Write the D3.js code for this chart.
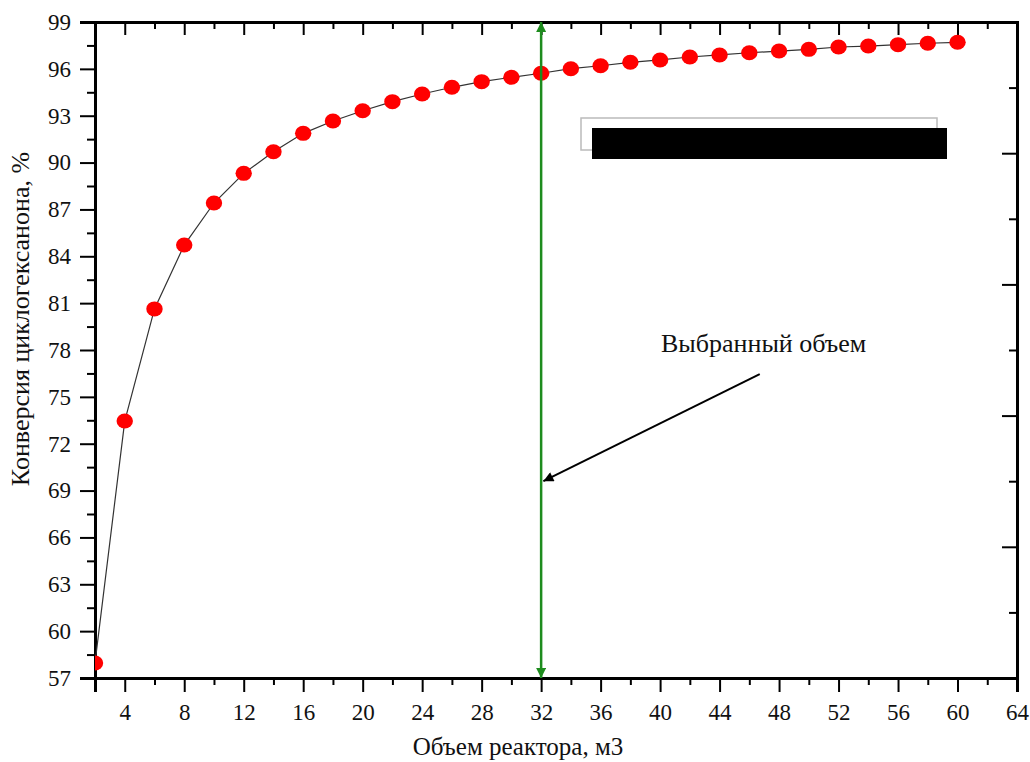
<!DOCTYPE html>
<html>
<head>
<meta charset="utf-8">
<script src="https://cdn.jsdelivr.net/npm/d3@7"></script>
<style>
  html, body { margin: 0; padding: 0; background: #fff; }
  svg { display: block; font-family: "Liberation Serif", "Times New Roman", serif; }
  .tick text { font-family: "Liberation Serif", "Times New Roman", serif; }
</style>
</head>
<body>
<svg id="chart" width="1030" height="762"></svg>
<script>
// Reactor volume, m3
const volume = [2, 4, 6, 8, 10, 12, 14, 16, 18, 20, 22, 24, 26, 28, 30,
                32, 34, 36, 38, 40, 42, 44, 46, 48, 50, 52, 54, 56, 58, 60];
// Cyclohexanone conversion, %
const conversion = [57.96, 73.45, 80.63, 84.72, 87.41, 89.31, 90.69, 91.87, 92.66, 93.32,
                    93.90, 94.39, 94.82, 95.18, 95.46, 95.72, 96.01, 96.20, 96.42, 96.57,
                    96.76, 96.89, 97.03, 97.14, 97.25, 97.40, 97.46, 97.55, 97.64, 97.70];

const xMajorTicks = [4, 8, 12, 16, 20, 24, 28, 32, 36, 40, 44, 48, 52, 56, 60, 64];
const xMinorTicks = [2, 6, 10, 14, 18, 22, 26, 30, 34, 38, 42, 46, 50, 54, 58, 62];
const yMajorTicks = [57, 60, 63, 66, 69, 72, 75, 78, 81, 84, 87, 90, 93, 96, 99];
const yMinorTicks = [58.5, 61.5, 64.5, 67.5, 70.5, 73.5, 76.5, 79.5, 82.5, 85.5, 88.5, 91.5, 94.5, 97.5];

const selectedVolume = 32;
const annotationText = 'Выбранный объем';
const xTitle = 'Объем реактора, м3';
const yTitle = 'Конверсия циклогексанона, %';

const W = 1030, H = 762;
const margin = { top: 22, right: 13, bottom: 84, left: 95 };
const iw = W - margin.left - margin.right;
const ih = H - margin.top - margin.bottom;

const svg = d3.select('#chart');
const g = svg.append('g').attr('transform', `translate(${margin.left},${margin.top})`);

const x = d3.scaleLinear().domain([2, 64]).range([0, iw]);
const y = d3.scaleLinear().domain([57, 99]).range([ih, 0]);
// right axis has its own unlabeled tick spacing
const yRight = d3.scaleLinear().domain([0, 10]).range([ih, 0]);

const defs = svg.append('defs');
defs.append('clipPath').attr('id', 'plot-clip')
  .append('rect').attr('width', iw).attr('height', ih);

defs.append('marker')
  .attr('id', 'green-head')
  .attr('viewBox', '0 0 10 10')
  .attr('refX', 10).attr('refY', 5)
  .attr('markerUnits', 'userSpaceOnUse')
  .attr('markerWidth', 14).attr('markerHeight', 10)
  .attr('orient', 'auto-start-reverse')
  .append('path').attr('d', 'M0,0 L10,5 L0,10 Z').attr('fill', '#1e8c1e');

defs.append('marker')
  .attr('id', 'black-head')
  .attr('viewBox', '0 0 10 10')
  .attr('refX', 10).attr('refY', 5)
  .attr('markerUnits', 'userSpaceOnUse')
  .attr('markerWidth', 16).attr('markerHeight', 10)
  .attr('orient', 'auto')
  .append('path').attr('d', 'M0,0 L10,5 L0,10 Z').attr('fill', '#000');

// Axes
function styleAxis(sel, width) {
  sel.attr('font-family', null).attr('font-size', null);
  sel.select('.domain').attr('stroke', '#000').attr('stroke-width', width);
  sel.selectAll('.tick line').attr('stroke', '#000').attr('stroke-width', 2);
  sel.selectAll('.tick text')
    .attr('fill', '#111')
    .style('font-size', '23px');
}

// bottom
g.append('g').attr('transform', `translate(0,${ih})`)
  .call(d3.axisBottom(x).tickValues(xMinorTicks).tickSize(7).tickFormat(''))
  .call(s => styleAxis(s, 3));
g.append('g').attr('transform', `translate(0,${ih})`)
  .call(d3.axisBottom(x).tickValues(xMajorTicks).tickSize(14).tickPadding(12).tickFormat(d3.format('d')))
  .call(s => styleAxis(s, 3));

// top (inward)
g.append('g')
  .call(d3.axisBottom(x).tickValues(xMinorTicks).tickSize(7).tickFormat(''))
  .call(s => styleAxis(s, 3));
g.append('g')
  .call(d3.axisBottom(x).tickValues(xMajorTicks).tickSize(13).tickFormat(''))
  .call(s => styleAxis(s, 3));

// left
g.append('g')
  .call(d3.axisLeft(y).tickValues(yMinorTicks).tickSize(8).tickFormat(''))
  .call(s => styleAxis(s, 3));
g.append('g')
  .call(d3.axisLeft(y).tickValues(yMajorTicks).tickSize(15).tickPadding(9).tickFormat(d3.format('d')))
  .call(s => styleAxis(s, 3));

// right (inward)
g.append('g').attr('transform', `translate(${iw},0)`)
  .call(d3.axisLeft(yRight).tickValues([1, 3, 5, 7, 9]).tickSize(8).tickFormat(''))
  .call(s => styleAxis(s, 3));
g.append('g').attr('transform', `translate(${iw},0)`)
  .call(d3.axisLeft(yRight).tickValues([0, 2, 4, 6, 8, 10]).tickSize(15).tickFormat(''))
  .call(s => styleAxis(s, 3));

// Data line and points
const points = volume.map((v, i) => ({ v, c: conversion[i] }));
const plot = g.append('g').attr('clip-path', 'url(#plot-clip)');

plot.append('path')
  .datum(points)
  .attr('fill', 'none')
  .attr('stroke', '#333')
  .attr('stroke-width', 1.2)
  .attr('d', d3.line().x(d => x(d.v)).y(d => y(d.c)));

plot.selectAll('ellipse')
  .data(points)
  .join('ellipse')
  .attr('cx', d => x(d.v))
  .attr('cy', d => y(d.c))
  .attr('rx', 8.2)
  .attr('ry', 7.5)
  .attr('fill', '#ff0000');

// Selected volume marker (double arrow)
g.append('line')
  .attr('x1', x(selectedVolume)).attr('x2', x(selectedVolume))
  .attr('y1', y(57)).attr('y2', y(99))
  .attr('stroke', '#1e8c1e')
  .attr('stroke-width', 2.5)
  .attr('marker-start', 'url(#green-head)')
  .attr('marker-end', 'url(#green-head)');

// Annotation arrow + text
g.append('line')
  .attr('x1', x(46.7)).attr('y1', y(76.46))
  .attr('x2', x(32.15)).attr('y2', y(69.6))
  .attr('stroke', '#000')
  .attr('stroke-width', 2)
  .attr('marker-end', 'url(#black-head)');

g.append('text')
  .attr('x', x(40.06))
  .attr('y', y(77.87))
  .attr('font-size', 26)
  .attr('fill', '#111')
  .text(annotationText);

// Legend box (covered)
svg.append('rect')
  .attr('x', 581).attr('y', 118).attr('width', 356).attr('height', 32)
  .attr('fill', '#fff').attr('stroke', '#bbb').attr('stroke-width', 1.5);
svg.append('rect')
  .attr('x', 592).attr('y', 128).attr('width', 355).attr('height', 31)
  .attr('fill', '#000');

// Axis titles
svg.append('text')
  .attr('x', 518)
  .attr('y', 755)
  .attr('text-anchor', 'middle')
  .attr('font-size', 25)
  .attr('fill', '#111')
  .text(xTitle);

svg.append('text')
  .attr('transform', 'translate(29,319) rotate(-90)')
  .attr('text-anchor', 'middle')
  .attr('font-size', 26)
  .attr('fill', '#111')
  .text(yTitle);
</script>
</body>
</html>
